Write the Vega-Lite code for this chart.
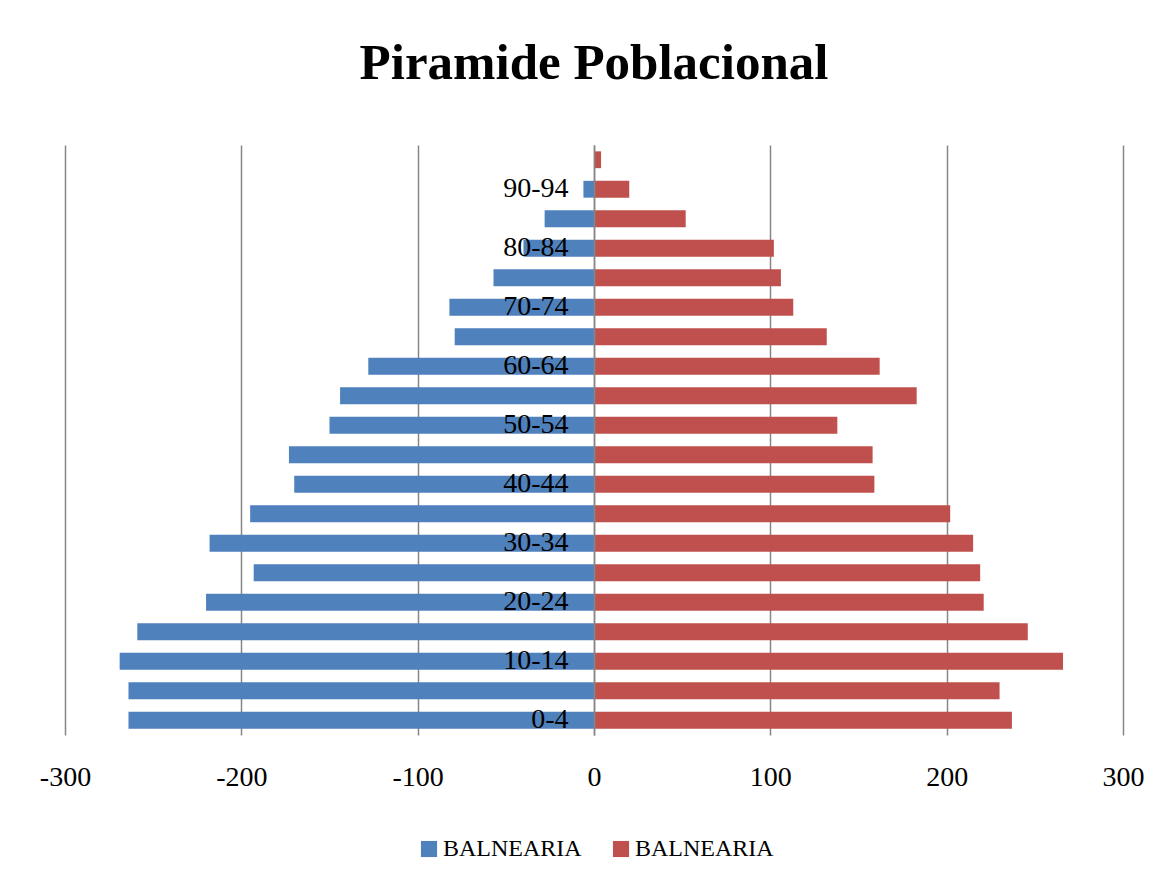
{
  "$schema": "https://vega.github.io/schema/vega-lite/v6.json",
  "autosize": {"type": "none"},
  "width": 1058,
  "height": 590,
  "padding": {"left": 65, "top": 145, "right": 41, "bottom": 146},
  "background": "white",
  "title": {
    "text": "Piramide Poblacional",
    "font": "Liberation Serif",
    "fontSize": 51,
    "fontWeight": "bold",
    "color": "#000000",
    "anchor": "middle",
    "frame": "group",
    "baseline": "alphabetic",
    "offset": 15
  },
  "data": {
    "values": [
      {"edad": "0-4", "sexo": "H", "valor": -264},
      {"edad": "0-4", "sexo": "M", "valor": 237},
      {"edad": "5-9", "sexo": "H", "valor": -264},
      {"edad": "5-9", "sexo": "M", "valor": 230},
      {"edad": "10-14", "sexo": "H", "valor": -269},
      {"edad": "10-14", "sexo": "M", "valor": 266},
      {"edad": "15-19", "sexo": "H", "valor": -259},
      {"edad": "15-19", "sexo": "M", "valor": 246},
      {"edad": "20-24", "sexo": "H", "valor": -220},
      {"edad": "20-24", "sexo": "M", "valor": 221},
      {"edad": "25-29", "sexo": "H", "valor": -193},
      {"edad": "25-29", "sexo": "M", "valor": 219},
      {"edad": "30-34", "sexo": "H", "valor": -218},
      {"edad": "30-34", "sexo": "M", "valor": 215},
      {"edad": "35-39", "sexo": "H", "valor": -195},
      {"edad": "35-39", "sexo": "M", "valor": 202},
      {"edad": "40-44", "sexo": "H", "valor": -170},
      {"edad": "40-44", "sexo": "M", "valor": 159},
      {"edad": "45-49", "sexo": "H", "valor": -173},
      {"edad": "45-49", "sexo": "M", "valor": 158},
      {"edad": "50-54", "sexo": "H", "valor": -150},
      {"edad": "50-54", "sexo": "M", "valor": 138},
      {"edad": "55-59", "sexo": "H", "valor": -144},
      {"edad": "55-59", "sexo": "M", "valor": 183},
      {"edad": "60-64", "sexo": "H", "valor": -128},
      {"edad": "60-64", "sexo": "M", "valor": 162},
      {"edad": "65-69", "sexo": "H", "valor": -79},
      {"edad": "65-69", "sexo": "M", "valor": 132},
      {"edad": "70-74", "sexo": "H", "valor": -82},
      {"edad": "70-74", "sexo": "M", "valor": 113},
      {"edad": "75-79", "sexo": "H", "valor": -57},
      {"edad": "75-79", "sexo": "M", "valor": 106},
      {"edad": "80-84", "sexo": "H", "valor": -40},
      {"edad": "80-84", "sexo": "M", "valor": 102},
      {"edad": "85-89", "sexo": "H", "valor": -28},
      {"edad": "85-89", "sexo": "M", "valor": 52},
      {"edad": "90-94", "sexo": "H", "valor": -6},
      {"edad": "90-94", "sexo": "M", "valor": 20},
      {"edad": "95-99", "sexo": "H", "valor": 0},
      {"edad": "95-99", "sexo": "M", "valor": 4}
    ]
  },
  "mark": {"type": "bar"},
  "encoding": {
    "y": {
      "field": "edad",
      "type": "nominal",
      "sort": ["95-99","90-94","85-89","80-84","75-79","70-74","65-69","60-64","55-59","50-54","45-49","40-44","35-39","30-34","25-29","20-24","15-19","10-14","5-9","0-4"],
      "scale": {"paddingInner": 0.43, "paddingOuter": 0.215},
      "axis": {
        "title": null,
        "orient": "left",
        "offset": -529,
        "values": ["0-4","10-14","20-24","30-34","40-44","50-54","60-64","70-74","80-84","90-94"],
        "ticks": false,
        "domain": true,
        "domainColor": "#868686",
        "domainWidth": 1.5,
        "labelFont": "Liberation Serif",
        "labelFontSize": 28,
        "labelColor": "#000000",
        "labelPadding": 26,
        "grid": false,
        "zindex": 1
      }
    },
    "x": {
      "field": "valor",
      "type": "quantitative",
      "scale": {"domain": [-300, 300], "nice": false, "zero": false},
      "axis": {
        "title": null,
        "values": [-300, -200, -100, 0, 100, 200, 300],
        "labelExpr": "'' + datum.value",
        "domain": false,
        "ticks": false,
        "grid": true,
        "gridColor": "#868686",
        "gridWidth": 1.5,
        "labelFont": "Liberation Serif",
        "labelFontSize": 28,
        "labelColor": "#000000",
        "labelPadding": 28,
        "labelFlush": false
      }
    },
    "color": {
      "field": "sexo",
      "type": "nominal",
      "scale": {"domain": ["H", "M"], "range": ["#4F81BD", "#C0504D"]},
      "legend": {
        "title": null,
        "orient": "none",
        "legendX": 352,
        "legendY": 692,
        "direction": "horizontal",
        "labelExpr": "'BALNEARIA'",
        "symbolType": "square",
        "symbolSize": 260,
        "symbolStrokeWidth": 0,
        "labelFont": "Liberation Serif",
        "labelFontSize": 24,
        "labelColor": "#000000",
        "columnPadding": 27,
        "labelOffset": 2
      }
    }
  },
  "config": {
    "view": {"stroke": null}
  }
}
